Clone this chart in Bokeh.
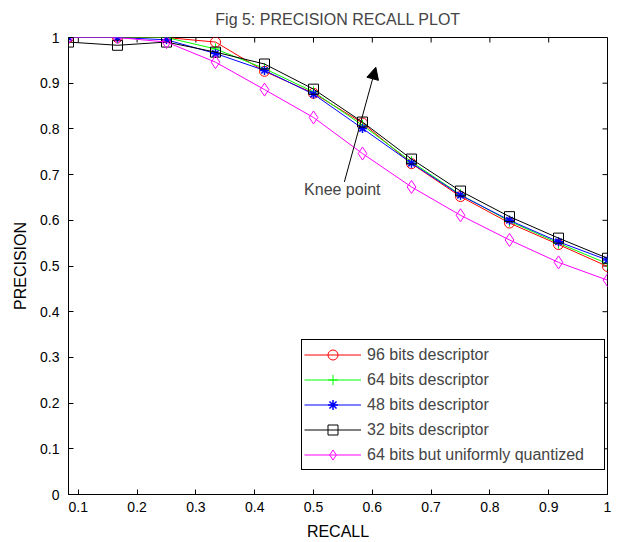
import math
from bokeh.plotting import figure
from bokeh.models import Range1d, FixedTicker, Legend, LegendItem, Arrow, NormalHead, Label
from bokeh.embed import file_html
from bokeh.resources import INLINE

recall = [1/12, 2/12, 3/12, 4/12, 5/12, 6/12, 7/12, 8/12, 9/12, 10/12, 11/12, 1.0]
p96 = [1.0, 1.0, 1.0, 0.99, 0.926, 0.878, 0.813, 0.724, 0.652, 0.594, 0.547, 0.499]
p64 = [1.0, 1.0, 1.0, 0.975, 0.932, 0.881, 0.808, 0.728, 0.656, 0.598, 0.550, 0.505]
p48 = [1.0, 1.0, 0.995, 0.965, 0.928, 0.876, 0.801, 0.725, 0.655, 0.600, 0.553, 0.513]
p32 = [0.99, 0.983, 0.99, 0.968, 0.942, 0.887, 0.815, 0.734, 0.664, 0.608, 0.561, 0.517]
p64u = [1.0, 1.0, 0.99, 0.946, 0.886, 0.825, 0.746, 0.673, 0.611, 0.557, 0.508, 0.469]

names = ["96 bits descriptor", "64 bits descriptor", "48 bits descriptor",
         "32 bits descriptor", "64 bits but uniformly quantized"]
xticks = [0.1, 0.2, 0.3, 0.4, 0.5, 0.6, 0.7, 0.8, 0.9, 1.0]
yticks = [0.0, 0.1, 0.2, 0.3, 0.4, 0.5, 0.6, 0.7, 0.8, 0.9, 1.0]
title_text = "Fig 5: PRECISION RECALL PLOT"
annot_text = "Knee point"
arrow_tail = (0.5525, 0.684)
arrow_head = (0.606, 0.935)
annot_pos = (0.549, 0.668)

FONT = "Liberation Sans"

p = figure(width=623, height=542, output_backend="svg", toolbar_location=None,
           x_range=Range1d(1/12, 1.0), y_range=Range1d(0, 1),
           min_border_left=68, min_border_right=16, min_border_top=37, min_border_bottom=47,
           title=title_text)
p.title.align = "center"
p.title.vertical_align = "top"
p.title.text_font = FONT
p.title.text_font_size = "16px"
p.title.text_font_style = "normal"
p.title.text_line_height = 1.0
p.title.standoff = 16
p.grid.visible = False
p.outline_line_color = "black"
p.outline_line_alpha = 1.0

def style_axis(ax):
    ax.major_tick_in = 5
    ax.major_tick_out = 0
    ax.minor_tick_line_color = None
    ax.axis_line_color = "black"
    ax.major_tick_line_color = "black"
    ax.major_label_text_font = FONT
    ax.major_label_text_font_size = "14px"
    ax.major_label_text_color = "black"
    ax.axis_label_text_font = FONT
    ax.axis_label_text_font_size = "16px"
    ax.axis_label_text_font_style = "normal"
    ax.axis_label_text_color = "black"
    ax.axis_label_text_line_height = 1.0
    ax.major_label_text_line_height = 1.0

xa = p.xaxis[0]
ya = p.yaxis[0]
xa.ticker = FixedTicker(ticks=xticks)
ya.ticker = FixedTicker(ticks=yticks)
xa.major_label_overrides = {1.0: "1"}
ya.major_label_overrides = {0.0: "0", 1.0: "1"}
xa.axis_label = "RECALL"
ya.axis_label = "PRECISION"
style_axis(xa)
style_axis(ya)
xa.major_label_standoff = 7
xa.axis_label_standoff = 8
ya.major_label_standoff = 9
ya.axis_label_standoff = 8

# tick marks on the top and right edges of the box (pointing inward)
p.ray(x=xticks, y=[1.0] * len(xticks), length=5, length_units="screen",
      angle=-math.pi / 2, line_color="black", line_width=1)
p.ray(x=[1.0] * len(yticks), y=yticks, length=5, length_units="screen",
      angle=math.pi, line_color="black", line_width=1)

r1l = p.line(recall, p96, color="#ff0000", line_width=1)
r1m = p.scatter(recall, p96, marker="circle", size=10, line_color="#ff0000", fill_color=None)
r2l = p.line(recall, p64, color="#00ff00", line_width=1)
r2m = p.scatter(recall, p64, marker="cross", size=11, line_color="#00ff00")
r3l = p.line(recall, p48, color="#0000ff", line_width=1)
r3m = p.scatter(recall, p48, marker="asterisk", size=9, line_color="#0000ff", line_width=1.5)
r4l = p.line(recall, p32, color="black", line_width=1)
r4m = p.scatter(recall, p32, marker="square", size=10, line_color="black", fill_color=None)
r5l = p.line(recall, p64u, color="#ff00ff", line_width=1)
r5m = p.scatter(recall, p64u, marker="diamond", size=13, line_color="#ff00ff", fill_color=None)

legend = Legend(items=[
    LegendItem(label=names[0], renderers=[r1l, r1m]),
    LegendItem(label=names[1], renderers=[r2l, r2m]),
    LegendItem(label=names[2], renderers=[r3l, r3m]),
    LegendItem(label=names[3], renderers=[r4l, r4m]),
    LegendItem(label=names[4], renderers=[r5l, r5m]),
], location=(233, 24))
legend.border_line_color = "black"
legend.border_line_width = 1
legend.border_line_alpha = 1
legend.background_fill_alpha = 1
legend.label_text_font = FONT
legend.label_text_font_size = "16px"
legend.glyph_width = 57
legend.glyph_height = 25
legend.label_height = 25
legend.label_width = 235
legend.spacing = 0
legend.padding = 2
legend.margin = 0
legend.label_standoff = 6
p.add_layout(legend, "center")

p.add_layout(Arrow(end=NormalHead(size=12, fill_color="black", line_color="black"),
                   x_start=arrow_tail[0], y_start=arrow_tail[1],
                   x_end=arrow_head[0], y_end=arrow_head[1],
                   line_color="black", line_width=1))
p.add_layout(Label(x=annot_pos[0], y=annot_pos[1], text=annot_text, text_align="center",
                   text_baseline="middle", text_font=FONT, text_font_size="16px"))

open("out.html", "w").write(file_html(p, INLINE))
